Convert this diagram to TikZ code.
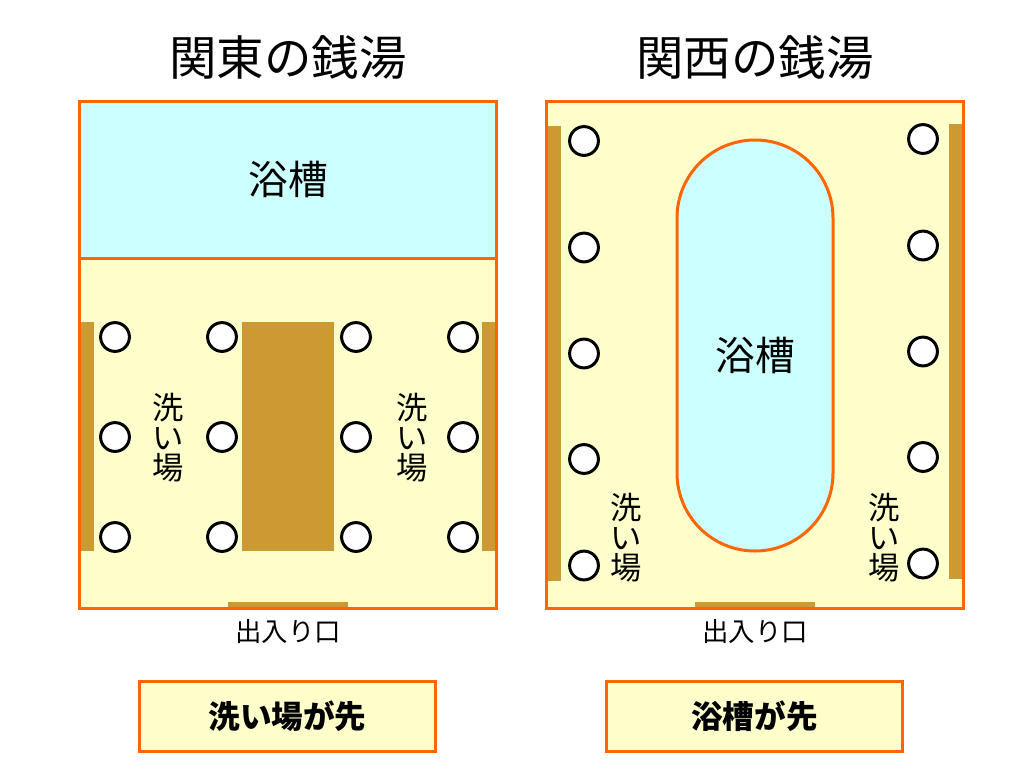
\documentclass[tikz,border=0pt]{standalone}
\usepackage{fontspec}
\setmainfont{Noto Sans CJK JP}
\usetikzlibrary{positioning}
\definecolor{framec}{HTML}{FF6600}
\definecolor{floorc}{HTML}{FFFFCC}
\definecolor{bathc}{HTML}{CCFFFF}
\definecolor{wallc}{HTML}{CC9933}
\tikzset{
  x=0.75pt, y=-0.75pt,
  room/.style={draw=framec, line width=2.25pt, fill=floorc},
  bath/.style={draw=framec, line width=2.25pt, fill=bathc},
  wall/.style={fill=wallc, draw=none},
  tap/.style={draw=black, line width=2.25pt, fill=white, circle, inner sep=0pt, minimum size=21.6pt},
  title/.style={font=\fontsize{35.6}{36}\selectfont, inner sep=0pt},
  lbl/.style={font=\fontsize{29.8}{30}\selectfont, inner sep=0pt},
  wash/.style={font=\fontsize{23.5}{22.5}\selectfont, inner sep=0pt, align=center},
  door/.style={font=\fontsize{19.8}{20}\selectfont, inner sep=0pt},
  order/.style={draw=framec, line width=2.25pt, fill=floorc, minimum width=222pt, minimum height=52pt, font=\fontsize{23.7}{24}\selectfont\bfseries, inner sep=0pt},
}
\begin{document}
\begin{tikzpicture}
  \useasboundingbox (0,0) rectangle (1024,768);
  % kanto
  \node[title] (titleA) at (288,57) {関東の銭湯};
  \draw[room] (79.5,101.5) rectangle (496.5,608.5);
  \draw[bath] (79.5,101.5) rectangle (496.5,258);
  \node[lbl] (bathA) at (288,179.5) {浴槽};
  \fill[wall] (81,322) rectangle (94,551);
  \fill[wall] (482,322) rectangle (495,551);
  \fill[wall] (242,322) rectangle (334,551);
  \fill[wall] (228,602) rectangle (348,607);
  \foreach \x in {115,222,356,463} {
    \foreach \y in {337,437,537} {
      \node[tap] at (\x,\y) {};
    }
  }
  \node[wash] (washA) at (168,437.5) {洗\\い\\場};
  \node[wash] (washB) at (412,437.5) {洗\\い\\場};
  \node[door] (doorA) at (288,632) {出入り口};
  \node[order] (orderA) at (287.5,716.5) {洗い場が先};
  % kansai
  \node[title] (titleB) at (755,57) {関西の銭湯};
  \draw[room] (546.5,101.5) rectangle (963.5,608.5);
  \fill[wall] (548,126) rectangle (561,581);
  \fill[wall] (949,124) rectangle (962,579);
  \fill[wall] (695,602) rectangle (815,607);
  \draw[bath] (677,218) arc[start angle=180, end angle=360, radius=78] -- (833,473) arc[start angle=0, end angle=180, radius=78] -- cycle;
  \node[lbl] (bathB) at (755,355) {浴槽};
  \foreach \y in {141,247.5,353.5,459,565.5} {
    \node[tap] at (584,\y) {};
  }
  \foreach \y in {139,245.5,351.5,457,563.5} {
    \node[tap] at (923,\y) {};
  }
  \node[wash] (washC) at (626,537.5) {洗\\い\\場};
  \node[wash] (washD) at (884,537.5) {洗\\い\\場};
  \node[door] (doorB) at (755,632) {出入り口};
  \node[order] (orderB) at (754.5,716.5) {浴槽が先};
\end{tikzpicture}
\end{document}
